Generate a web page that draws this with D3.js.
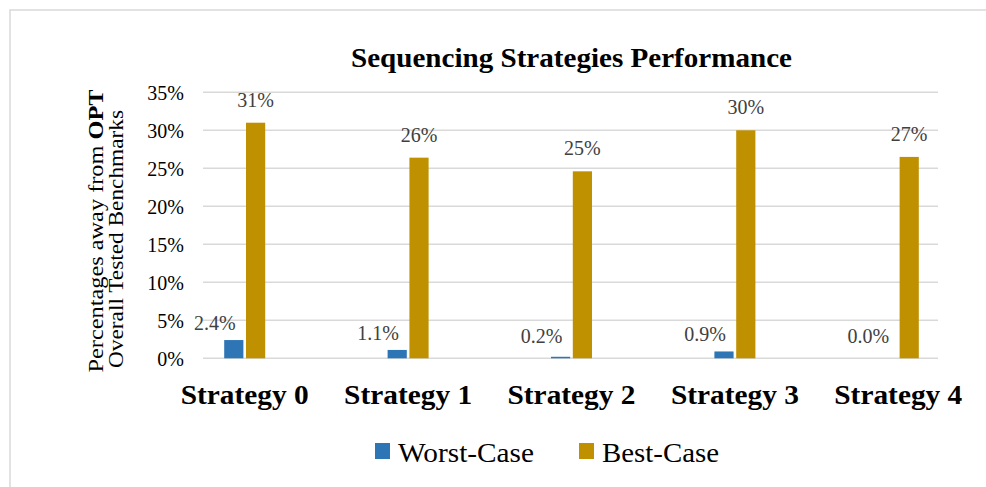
<!DOCTYPE html>
<html>
<head>
<meta charset="utf-8">
<script src="https://cdn.jsdelivr.net/npm/d3@7"></script>
<style>
  body { margin: 0; background: #fff; }
  svg { display: block; font-family: "Liberation Serif", "Times New Roman", serif; }
</style>
</head>
<body>
<div id="chart"></div>
<script>
// данные
const categories = ["Strategy 0", "Strategy 1", "Strategy 2", "Strategy 3", "Strategy 4"];
const seriesNames = ["Worst-Case", "Best-Case"];
const worstCase = [2.4, 1.1, 0.2, 0.9, 0.0];
const bestCase = [31.0, 26.4, 24.6, 30.0, 26.5];
const yTicks = [0, 5, 10, 15, 20, 25, 30, 35];

const width = 986;
const height = 487;
const colors = ["#2e75b6", "#bf9000"];

const svg = d3.select("#chart")
  .append("svg")
  .attr("width", width)
  .attr("height", height);

// рамка
svg.append("path")
  .attr("d", `M10,${height + 5} V10 H${width + 5}`)
  .attr("fill", "none")
  .attr("stroke", "#d9d9d9")
  .attr("stroke-width", 1.5);

// шкалы
const y = d3.scaleLinear().domain([0, 35]).range([358.3, 92.3]);
const x0 = d3.scaleBand().domain(categories).range([163, 980]);
const x1 = d3.scaleBand().domain(seriesNames).range([0, 41]).paddingInner(0.12);

// сетка
const gridLeft = 203, gridRight = 938;
svg.append("g")
  .selectAll("line")
  .data(yTicks)
  .join("line")
  .attr("x1", gridLeft)
  .attr("x2", gridRight)
  .attr("y1", d => y(d))
  .attr("y2", d => y(d))
  .attr("stroke", "#d9d9d9")
  .attr("stroke-width", 1.5);

// ось Y
const yAxis = svg.append("g")
  .attr("transform", "translate(184,0)")
  .call(d3.axisLeft(y).tickValues(yTicks).tickFormat(d => d + "%").tickSize(0).tickPadding(0));
yAxis.select(".domain").remove();
yAxis.selectAll("text")
  .attr("font-family", "Liberation Serif, serif")
  .attr("font-size", 20)
  .attr("fill", "#000")
  .attr("dy", "0.35em");

// заголовок оси Y (две строки)
svg.append("text")
  .attr("transform", "translate(96,231) rotate(-90)")
  .attr("text-anchor", "middle")
  .attr("dy", "0.35em")
  .attr("font-size", 21)
  .attr("textLength", 283)
  .attr("lengthAdjust", "spacingAndGlyphs")
  .call(t => {
    t.append("tspan").text("Percentages away from ");
    t.append("tspan").attr("font-weight", "bold").text("OPT");
  });
svg.append("text")
  .attr("transform", "translate(116,239) rotate(-90)")
  .attr("text-anchor", "middle")
  .attr("dy", "0.35em")
  .attr("font-size", 21)
  .attr("textLength", 258)
  .attr("lengthAdjust", "spacingAndGlyphs")
  .text("Overall Tested Benchmarks");

// заголовок
svg.append("text")
  .attr("x", 571.5)
  .attr("y", 67)
  .attr("text-anchor", "middle")
  .attr("font-size", 28)
  .attr("font-weight", "bold")
  .attr("textLength", 441)
  .attr("lengthAdjust", "spacingAndGlyphs")
  .text("Sequencing Strategies Performance");

// столбцы
const rows = categories.map((c, i) => ({ cat: c, values: [worstCase[i], bestCase[i]] }));
const center = c => x0(c) + x0.bandwidth() / 2;

const groups = svg.append("g")
  .selectAll("g")
  .data(rows)
  .join("g")
  .attr("transform", d => `translate(${center(d.cat) - 20.5},0)`);

groups.selectAll("rect")
  .data(d => d.values.map((v, j) => ({ name: seriesNames[j], v, j })))
  .join("rect")
  .attr("x", d => x1(d.name))
  .attr("y", d => y(d.v))
  .attr("width", x1.bandwidth())
  .attr("height", d => y(0) - y(d.v))
  .attr("fill", d => colors[d.j]);

// подписи значений
groups.selectAll("text")
  .data(d => d.values.map((v, j) => ({ name: seriesNames[j], v, j })))
  .join("text")
  .attr("x", d => x1(d.name) + x1.bandwidth() / 2 + (d.j === 0 ? -19 : 0))
  .attr("y", d => d.j === 0 ? Math.min(y(d.v) - 10, 343) : y(d.v) - 16)
  .attr("text-anchor", "middle")
  .attr("font-size", 20)
  .attr("fill", "#404040")
  .text(d => d.j === 0 ? d.v.toFixed(1) + "%" : Math.round(d.v) + "%");

// подписи категорий
svg.append("g")
  .selectAll("text")
  .data(categories)
  .join("text")
  .attr("x", d => center(d))
  .attr("y", 404)
  .attr("text-anchor", "middle")
  .attr("font-size", 28)
  .attr("font-weight", "bold")
  .attr("textLength", 128)
  .attr("lengthAdjust", "spacingAndGlyphs")
  .text(d => d);

// легенда
const legendX = [375, 579];
const legendLen = [136, 117];
const legend = svg.append("g")
  .selectAll("g")
  .data(seriesNames)
  .join("g")
  .attr("transform", (d, i) => `translate(${legendX[i]},443)`);
legend.append("rect")
  .attr("width", 15)
  .attr("height", 16)
  .attr("fill", (d, i) => colors[i]);
legend.append("text")
  .attr("x", 23)
  .attr("y", 19)
  .attr("font-size", 27)
  .attr("textLength", (d, i) => legendLen[i])
  .attr("lengthAdjust", "spacingAndGlyphs")
  .text(d => d);
</script>
</body>
</html>
